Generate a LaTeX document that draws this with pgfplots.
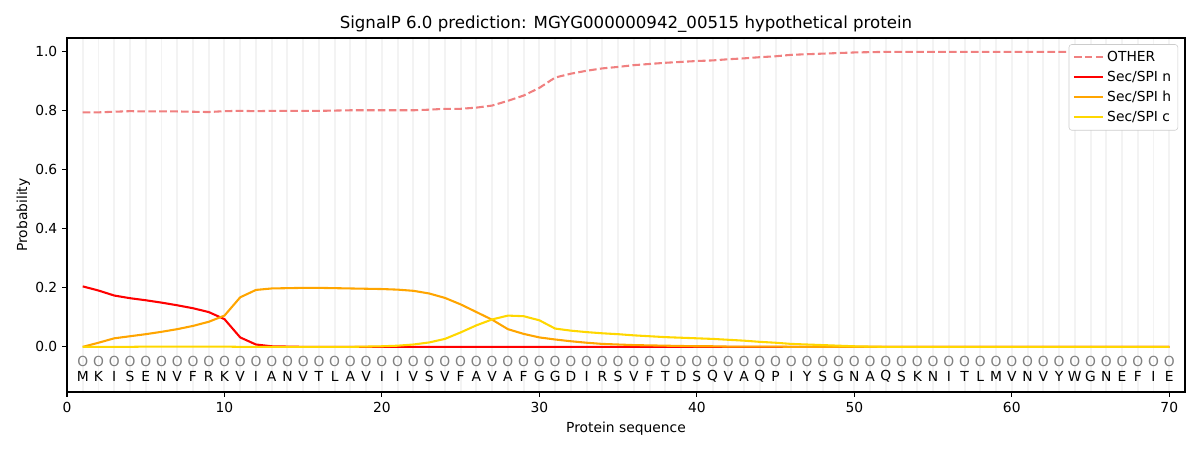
\documentclass[border=0pt]{standalone}
\usepackage{pgfplots}
\pgfplotsset{compat=1.18}
\usepackage{pgfplotstable}
\usepackage{fontspec}
\setmainfont{DejaVu Sans}
\usetikzlibrary{calc}
\definecolor{lightcoral}{RGB}{240,128,128}
\definecolor{spin}{RGB}{255,0,0}
\definecolor{spih}{RGB}{255,165,0}
\definecolor{spic}{RGB}{255,215,0}
\definecolor{gridgray}{RGB}{243,243,243}
\definecolor{legframe}{RGB}{204,204,204}
\definecolor{lblgray}{RGB}{128,128,128}

\pgfplotstableread{
x n h c o
1 0.205 0.000 0.000 0.795
2 0.191 0.014 0.000 0.795
3 0.174 0.029 0.000 0.797
4 0.165 0.036 0.000 0.799
5 0.158 0.043 0.001 0.798
6 0.150 0.051 0.001 0.798
7 0.141 0.060 0.001 0.798
8 0.131 0.071 0.001 0.797
9 0.118 0.085 0.001 0.796
10 0.094 0.106 0.001 0.799
11 0.032 0.168 0.000 0.800
12 0.008 0.193 0.000 0.799
13 0.002 0.198 0.000 0.800
14 0.001 0.199 0.000 0.800
15 0.000 0.200 0.000 0.800
16 0.000 0.200 0.000 0.800
17 0.000 0.199 0.000 0.801
18 0.000 0.198 0.000 0.802
19 0.000 0.197 0.001 0.802
20 0.000 0.196 0.002 0.802
21 0.000 0.194 0.004 0.802
22 0.000 0.190 0.008 0.802
23 0.000 0.181 0.015 0.804
24 0.000 0.166 0.027 0.807
25 0.000 0.144 0.049 0.807
26 0.000 0.118 0.073 0.811
27 0.000 0.092 0.093 0.818
28 0.000 0.060 0.106 0.834
29 0.000 0.044 0.104 0.852
30 0.000 0.032 0.090 0.878
31 0.000 0.025 0.062 0.913
32 0.000 0.019 0.055 0.926
33 0.000 0.014 0.050 0.936
34 0.000 0.010 0.046 0.944
35 0.000 0.008 0.043 0.949
36 0.000 0.006 0.039 0.955
37 0.000 0.005 0.036 0.959
38 0.000 0.004 0.033 0.963
39 0.000 0.003 0.031 0.966
40 0.000 0.002 0.029 0.969
41 0.000 0.002 0.027 0.971
42 0.000 0.001 0.024 0.975
43 0.000 0.001 0.021 0.978
44 0.000 0.001 0.017 0.982
45 0.000 0.001 0.014 0.985
46 0.000 0.000 0.010 0.990
47 0.000 0.000 0.008 0.992
48 0.000 0.000 0.006 0.994
49 0.000 0.000 0.004 0.996
50 0.000 0.000 0.002 0.998
51 0.000 0.000 0.001 0.999
52 0.000 0.000 0.000 1.000
53 0.000 0.000 0.000 1.000
54 0.000 0.000 0.000 1.000
55 0.000 0.000 0.000 1.000
56 0.000 0.000 0.000 1.000
57 0.000 0.000 0.000 1.000
58 0.000 0.000 0.000 1.000
59 0.000 0.000 0.000 1.000
60 0.000 0.000 0.000 1.000
61 0.000 0.000 0.000 1.000
62 0.000 0.000 0.000 1.000
63 0.000 0.000 0.000 1.000
64 0.000 0.000 0.000 1.000
65 0.000 0.000 0.000 1.000
66 0.000 0.000 0.000 1.000
67 0.000 0.000 0.000 1.000
68 0.000 0.000 0.000 1.000
69 0.000 0.000 0.000 1.000
70 0.000 0.000 0.000 1.000
}\probs

\pgfplotstableread{
x yc yl aa lab
1 -0.05 -0.1 M O
2 -0.05 -0.1 K O
3 -0.05 -0.1 I O
4 -0.05 -0.1 S O
5 -0.05 -0.1 E O
6 -0.05 -0.1 N O
7 -0.05 -0.1 V O
8 -0.05 -0.1 F O
9 -0.05 -0.1 R O
10 -0.05 -0.1 K O
11 -0.05 -0.1 V O
12 -0.05 -0.1 I O
13 -0.05 -0.1 A O
14 -0.05 -0.1 N O
15 -0.05 -0.1 V O
16 -0.05 -0.1 T O
17 -0.05 -0.1 L O
18 -0.05 -0.1 A O
19 -0.05 -0.1 V O
20 -0.05 -0.1 I O
21 -0.05 -0.1 I O
22 -0.05 -0.1 V O
23 -0.05 -0.1 S O
24 -0.05 -0.1 V O
25 -0.05 -0.1 F O
26 -0.05 -0.1 A O
27 -0.05 -0.1 V O
28 -0.05 -0.1 A O
29 -0.05 -0.1 F O
30 -0.05 -0.1 G O
31 -0.05 -0.1 G O
32 -0.05 -0.1 D O
33 -0.05 -0.1 I O
34 -0.05 -0.1 R O
35 -0.05 -0.1 S O
36 -0.05 -0.1 V O
37 -0.05 -0.1 F O
38 -0.05 -0.1 T O
39 -0.05 -0.1 D O
40 -0.05 -0.1 S O
41 -0.05 -0.1 Q O
42 -0.05 -0.1 V O
43 -0.05 -0.1 A O
44 -0.05 -0.1 Q O
45 -0.05 -0.1 P O
46 -0.05 -0.1 I O
47 -0.05 -0.1 Y O
48 -0.05 -0.1 S O
49 -0.05 -0.1 G O
50 -0.05 -0.1 N O
51 -0.05 -0.1 A O
52 -0.05 -0.1 Q O
53 -0.05 -0.1 S O
54 -0.05 -0.1 K O
55 -0.05 -0.1 N O
56 -0.05 -0.1 I O
57 -0.05 -0.1 T O
58 -0.05 -0.1 L O
59 -0.05 -0.1 M O
60 -0.05 -0.1 V O
61 -0.05 -0.1 N O
62 -0.05 -0.1 V O
63 -0.05 -0.1 Y O
64 -0.05 -0.1 W O
65 -0.05 -0.1 G O
66 -0.05 -0.1 N O
67 -0.05 -0.1 E O
68 -0.05 -0.1 F O
69 -0.05 -0.1 I O
70 -0.05 -0.1 E O
}\seq

\begin{document}
\begin{tikzpicture}
\begin{axis}[
  scale only axis, width=11.18in, height=3.54in,
  xmin=0, xmax=71, ymin=-0.153, ymax=1.047,
  xtick={0,10,20,30,40,50,60,70},
  ytick={0,0.2,0.4,0.6,0.8,1.0},
  minor x tick num=9,
  xmajorgrids, xminorgrids,
  grid style={draw=gridgray, line width=1.4pt},
  tick align=outside, xtick pos=bottom, ytick pos=left,
  major tick length=3.5pt, minor tick length=0pt,
  axis line style={line width=0.8pt},
  tick style={black, line width=0.8pt},
  /pgf/number format/assume math mode=true,
  ticklabel style={font=\fontsize{10}{12}\selectfont},
  yticklabel style={/pgf/number format/.cd, fixed, fixed zerofill, precision=1},
  xlabel={Protein sequence}, ylabel={Probability},
  label style={font=\fontsize{10}{12}\selectfont},
  xlabel style={yshift=0pt},
  ylabel style={yshift=-3pt},
  title={SignalP 6.0 prediction: MGYG000000942\_00515 hypothetical protein},
  title style={font=\fontsize{12}{14}\selectfont, yshift=-5.5pt},
  legend cell align=left,
  legend style={at={(1,1)}, anchor=north east, xshift=-5pt, yshift=-4.5pt,
    draw=legframe, rounded corners=2pt, font=\fontsize{10}{12}\selectfont,
    row sep=1.5pt, inner sep=2.8pt},
  legend image code/.code={\draw[#1] (0cm,0cm) -- (0.75cm,0cm);},
]
\addplot[only marks, mark=none, forget plot, nodes near coords, point meta=explicit symbolic,
  every node near coord/.append style={anchor=center, font=\fontsize{10}{12}\selectfont, text=lblgray}]
  table[x=x, y=yc, meta=lab] {\seq};
\addplot[only marks, mark=none, forget plot, nodes near coords, point meta=explicit symbolic,
  every node near coord/.append style={anchor=center, font=\fontsize{10}{12}\selectfont, text=black}]
  table[x=x, y=yl, meta=aa] {\seq};
\addplot[lightcoral, line width=1.5pt, dash pattern=on 5.5pt off 2.4pt] table[x=x, y=o] {\probs};
\addlegendentry{OTHER}
\addplot[spin, line width=1.5pt] table[x=x, y=n] {\probs};
\addlegendentry{Sec/SPI n}
\addplot[spih, line width=1.5pt] table[x=x, y=h] {\probs};
\addlegendentry{Sec/SPI h}
\addplot[spic, line width=1.5pt] table[x=x, y=c] {\probs};
\addlegendentry{Sec/SPI c}
\coordinate (sw) at (rel axis cs:0,0);
\coordinate (ne) at (rel axis cs:1,1);
\end{axis}
\pgfresetboundingbox
\path ($(sw)+(-0.67in,-0.58in)$) rectangle ($(ne)+(0.15in,0.38in)$);
\end{tikzpicture}
\end{document}
